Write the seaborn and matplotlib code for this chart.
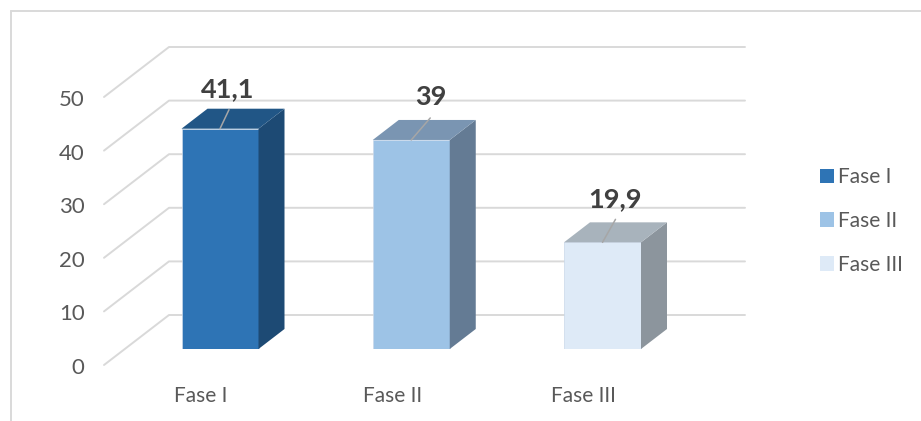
import matplotlib
matplotlib.use("Agg")
import matplotlib.pyplot as plt
from matplotlib.lines import Line2D
from matplotlib.patches import Polygon
from matplotlib.transforms import ScaledTranslation
import pandas as pd
import seaborn as sns

categories = ["Fase I", "Fase II", "Fase III"]
values = [41.1, 39, 19.9]
value_labels = ["41,1", "39", "19,9"]
y_ticks = [0, 10, 20, 30, 40, 50]
front_colors = ["#2E74B5", "#9DC3E6", "#DEEAF7"]
side_colors = ["#1D4A74", "#647B94", "#8C959D"]
top_colors = ["#215686", "#7A95B2", "#A8B3BC"]
leader_offsets = [(9, 19), (19, 22), (13, 23)]
label_offsets = [(8, 40), (19.5, 43), (12.5, 43)]

W, H = 921, 421
AX_L, AX_R, AX_T, AX_B = 104, 745, 81, 349
STEP = 191.25
BAR_W = 77
DEPTH = (26, 20)
BACK = (65, 34)
FRONT_DROP = 16
TEXT = "#595959"
GRID = "#D9D9D9"

sns.set_style("white")
plt.rcParams["font.family"] = ["Lato", "DejaVu Sans"]

fig = plt.figure(figsize=(W / 100, H / 100), dpi=100)
ax = fig.add_axes([AX_L / W, 1 - AX_B / H, (AX_R - AX_L) / W, (AX_B - AX_T) / H])
ax.patch.set_alpha(0)

df = pd.DataFrame({"fase": categories, "valor": values})
sns.barplot(data=df, x="fase", y="valor", hue="fase", palette=front_colors,
            width=BAR_W / STEP, dodge=False, legend=False, ax=ax,
            saturation=1, zorder=3, edgecolor="#C9D8EA", linewidth=0.5)
ax.set_xlim((AX_L - 220) / STEP, (AX_R - 220) / STEP)
ax.set_ylim(0, 50)
ax.set_xlabel("")
ax.set_ylabel("")
sns.despine(ax=ax, left=True, bottom=True, top=True, right=True)

px_x = 1 / STEP
px_y = 50 / (AX_B - AX_T)

# walls and gridlines
for t in y_ticks:
    xs = [(AX_L - 220) / STEP, (AX_L + BACK[0] - 220) / STEP, (AX_R - 220) / STEP]
    ys = [t - FRONT_DROP * px_y, t + BACK[1] * px_y, t + BACK[1] * px_y]
    ax.plot(xs, ys, color=GRID, lw=1.4, clip_on=False, zorder=1)

# 3D faces of the bars
half = BAR_W / 2 * px_x
dx, dy = DEPTH[0] * px_x, DEPTH[1] * px_y
for i, v in enumerate(values):
    l, r = i - half, i + half
    ax.add_patch(Polygon([(r, 0), (r + dx, dy), (r + dx, v + dy), (r, v)],
                         closed=True, fc=side_colors[i], ec="none", zorder=3, clip_on=False))
    ax.add_patch(Polygon([(l, v), (r, v), (r + dx, v + dy), (l + dx, v + dy)],
                         closed=True, fc=top_colors[i], ec="none", zorder=3, clip_on=False))
    ax.annotate("", xy=(i, v), xytext=leader_offsets[i], textcoords="offset pixels",
                arrowprops=dict(arrowstyle="-", color="#A6A6A6", lw=1.1, shrinkA=0, shrinkB=0),
                zorder=5, annotation_clip=False)
    ax.annotate(value_labels[i], xy=(i, v), xytext=label_offsets[i], textcoords="offset pixels",
                ha="center", va="center", fontsize=19.5, fontweight="bold",
                color="#404040", zorder=6, annotation_clip=False)

# axis labels
ax.set_yticks(y_ticks)
ax.set_xticks(range(len(categories)))
ax.set_xticklabels(categories)
ax.tick_params(axis="both", length=0, labelcolor=TEXT)
ax.tick_params(axis="y", pad=14, labelsize=16)
ax.tick_params(axis="x", pad=27, labelsize=15)
shift = ScaledTranslation(0, -(FRONT_DROP + 1) / 100, fig.dpi_scale_trans)
for lab in ax.get_yticklabels():
    lab.set_transform(lab.get_transform() + shift)
shift_x = ScaledTranslation(-19 / 100, 0, fig.dpi_scale_trans)
for lab in ax.get_xticklabels():
    lab.set_transform(lab.get_transform() + shift_x)

# legend
handles = [plt.Rectangle((0, 0), 1, 1, fc=c, ec="none") for c in front_colors]
fig.legend(handles, categories, loc="upper left", bbox_to_anchor=(816 / W, 1 - 163 / H),
           frameon=False, fontsize=15, labelcolor=TEXT, handlelength=0.68,
           handleheight=0.68, handletextpad=0.2, labelspacing=1.14, borderpad=0.2,
           borderaxespad=0)

# outer frame
fig.add_artist(Line2D([10.5 / W, W / W], [1 - 10.5 / H, 1 - 10.5 / H], color=GRID, lw=1.4))
fig.add_artist(Line2D([10.5 / W, 10.5 / W], [1 - 10.5 / H, 0], color=GRID, lw=1.4))

fig.savefig("out.png", dpi=100, facecolor="white")
